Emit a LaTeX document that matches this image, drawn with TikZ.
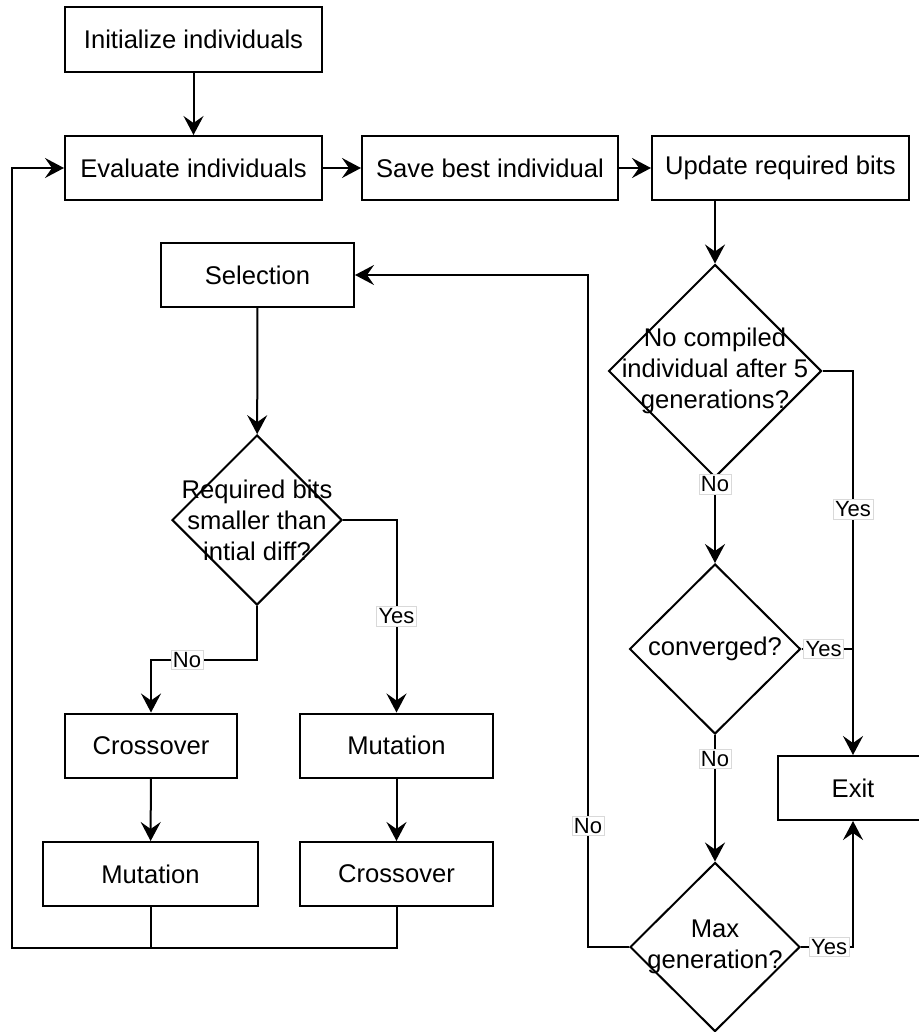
\documentclass[tikz,border=0pt]{standalone}
\usepackage{fontspec}
\setmainfont{Liberation Sans}
\usetikzlibrary{positioning, shapes.geometric, arrows.meta}

\begin{document}
\begin{tikzpicture}[x=0.5pt, y=-0.5pt, line width=1pt,
  font=\fontsize{12.8}{15.5}\selectfont,
  box/.style = {draw, rectangle, minimum height=32pt, inner sep=0pt},
  decide/.style = {draw, diamond, inner sep=0pt},
  lbl/.style = {fill=white, draw=black!15, line width=0.4pt, inner sep=1pt, font=\fontsize{11}{13}\selectfont},
  arr/.style = {-{Stealth[length=9.5pt, width=10pt, inset=3.5pt]}}]
  \clip (0,0) rectangle (919,1032);

  \node[box, minimum width=128.5pt, minimum height=32.5pt] (init) at (193.5,39.5) {Initialize individuals};
  \node[box, minimum width=128.5pt] (eval) at (193.5,168) {Evaluate individuals};
  \node[box, minimum width=128pt] (save) at (490,168) {Save best individual};
  \node[box, minimum width=128.5pt] (upd) at (780.5,168) {Update required bits};
  \node[box, minimum width=96.5pt] (sel) at (257.5,275) {Selection};
  \node[decide, minimum width=85pt, minimum height=85pt,
    label={[align=center]center:{Required bits\\smaller than\\intial diff?}}] (req) at (257,520) {};
  \node[box, minimum width=86pt] (crossA) at (151,745.5) {Crossover};
  \node[box, minimum width=96.5pt] (mutA) at (396.5,745.5) {Mutation};
  \node[box, minimum width=107.5pt] (mutB) at (150.5,874) {Mutation};
  \node[box, minimum width=96.5pt] (crossB) at (396.5,874) {Crossover};

  \node[decide, minimum width=106.5pt, minimum height=106.5pt,
    label={[align=center]center:{No compiled\\individual after 5\\generations?}}] (comp) at (715,371) {};
  \node[decide, minimum width=85.5pt, minimum height=85pt,
    label={[align=center]center:{converged?}}] (conv) at (715,649) {};
  \node[decide, minimum width=85pt, minimum height=84.5pt,
    label={[align=center]center:{Max\\generation?}}] (maxg) at (715,947) {};
  \node[box, minimum width=75pt] (exit) at (853,788) {Exit};

  \coordinate (loop) at (12,948);
  \coordinate (back) at (588,275);

  \draw[arr] (init) -- (eval);
  \draw[arr] (eval) -- (save);
  \draw[arr] (save) -- (upd);
  \draw[arr] (comp.north |- upd.south) -- (comp.north);
  \draw[arr] (sel) -- (req);
  \draw[arr] (req.east) -| node[lbl, pos=0.75] {Yes} (mutA.north);
  \draw[arr] (req.south) -- ++(0,54) -| node[lbl, pos=0.33] {No} (crossA.north);
  \draw[arr] (crossA) -- (mutB);
  \draw[arr] (mutA) -- (crossB);
  \draw (mutB.south) -- (mutB.south |- loop);
  \draw[arr] (crossB.south) |- (loop) |- (eval.west);

  \draw[arr] (comp.south) -- node[lbl, pos=0.07] {No} (conv.north);
  \draw[arr] (comp.east) -| node[lbl, pos=0.68] {Yes} (exit.north);
  \draw (conv.east) -- node[lbl, pos=0.43] {Yes} (conv.east -| exit.north);
  \draw[arr] (conv.south) -- node[lbl, pos=0.19] {No} (maxg.north);
  \draw[arr] (maxg.east) -| node[lbl, pos=0.27] {Yes} (exit.south);
  \draw[arr] (maxg.west) -| node[lbl, pos=0.59] {No} (back) -- (sel.east);

\end{tikzpicture}
\end{document}
